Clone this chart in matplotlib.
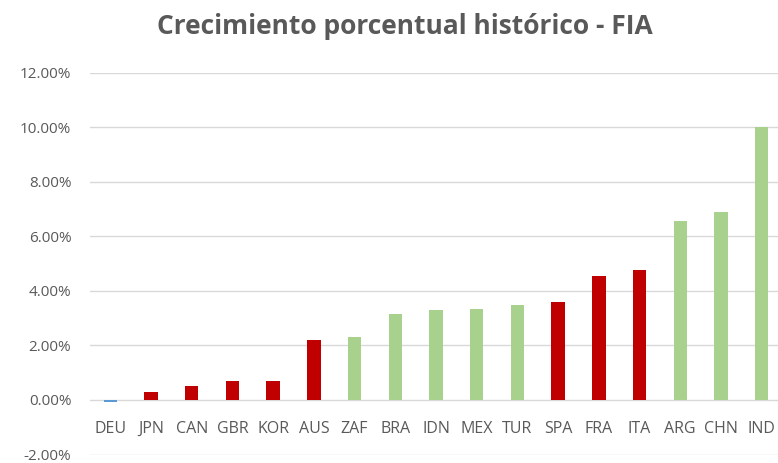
import matplotlib.pyplot as plt
from matplotlib.ticker import FuncFormatter

paises = ['DEU', 'JPN', 'CAN', 'GBR', 'KOR', 'AUS', 'ZAF', 'BRA', 'IDN',
          'MEX', 'TUR', 'SPA', 'FRA', 'ITA', 'ARG', 'CHN', 'IND']
crecimiento = [-0.08, 0.28, 0.50, 0.68, 0.68, 2.20, 2.30, 3.15, 3.28,
               3.35, 3.47, 3.60, 4.53, 4.75, 6.55, 6.90, 10.0]
grupo = ['azul', 'rojo', 'rojo', 'rojo', 'rojo', 'rojo', 'verde', 'verde', 'verde',
         'verde', 'verde', 'rojo', 'rojo', 'rojo', 'verde', 'verde', 'verde']
colores = {'azul': '#5B9BD5', 'rojo': '#C00000', 'verde': '#A9D18E'}

plt.rcParams['font.family'] = ['Open Sans', 'DejaVu Sans']

fig = plt.figure(figsize=(7.78, 4.63), dpi=100)
ax = fig.add_axes([90 / 778, 8.5 / 463, 692 / 778, 382 / 463])

x = range(len(paises))
ax.bar(x, crecimiento, width=0.33, color=[colores[g] for g in grupo], zorder=3)

ax.set_xlim(-0.5, len(paises) - 0.5)
ax.set_ylim(-2, 12)
ax.set_yticks(range(-2, 13, 2))
ax.yaxis.set_major_formatter(FuncFormatter(lambda v, p: f'{v:.2f}%'))
ax.grid(axis='y', color='#D9D9D9', linewidth=1, zorder=0)
for s in ax.spines.values():
    s.set_visible(False)
ax.tick_params(axis='both', length=0, labelsize=11, labelcolor='#595959')
ax.tick_params(axis='y', pad=13.5)
for lbl in ax.get_yticklabels():
    lbl.set_va('center_baseline')

# etiquetas del eje x justo debajo de la linea del cero
ax.set_xticks(list(x))
ax.set_xticklabels([])
for i, p in enumerate(paises):
    ax.text(i, -1.05, p, ha='center', va='center', fontsize=11.5, color='#595959')

fig.text(405 / 778, 1 - 27 / 463, 'Crecimiento porcentual histórico - FIA',
         ha='center', va='center', fontsize=19, fontweight='bold', color='#595959')

fig.savefig('out.png', dpi=100)
